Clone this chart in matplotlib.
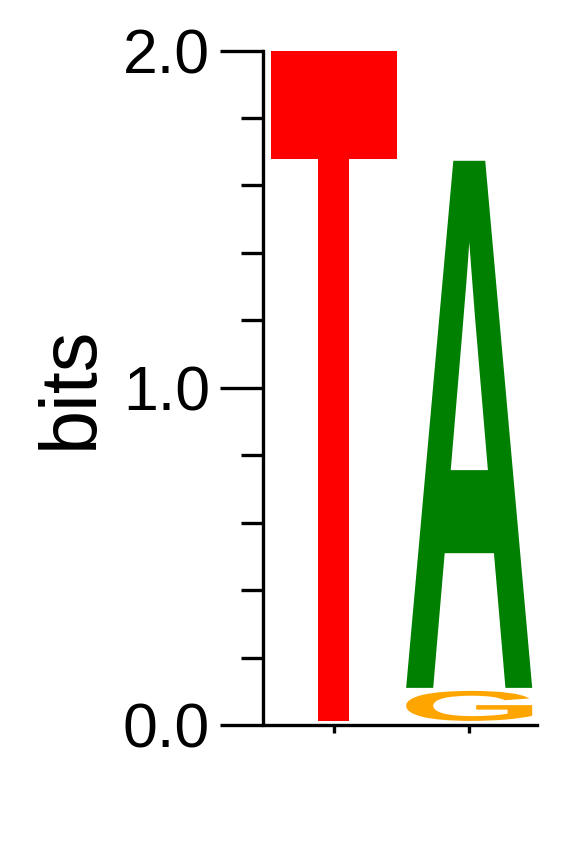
import matplotlib
matplotlib.use("Agg")
import matplotlib.pyplot as plt
from matplotlib.textpath import TextPath
from matplotlib.patches import PathPatch
from matplotlib.font_manager import FontProperties
from matplotlib.transforms import Affine2D

# logo data: bits per letter at each position (stacked bottom to top)
positions = [1, 2]
letters = ['G', 'A', 'T']
heights = {
    'G': [0.0, 0.089],
    'A': [0.0, 1.563],
    'T': [1.987, 0.0],
}
colors = {'T': '#ff0000', 'A': '#008000', 'G': '#ffa500'}
baseline = 0.012
gap = 0.009
letter_width = 0.93

plt.rcParams['font.family'] = ['Liberation Sans', 'DejaVu Sans']

fig = plt.figure(figsize=(5.83, 8.42), dpi=100)
ax = fig.add_axes([0.456, 0.139, 0.465, 0.801])

glyph_font = FontProperties(family='Liberation Sans', weight='bold')

def draw_letter(ax, ch, x, y0, h):
    tp = TextPath((0, 0), ch, size=100, prop=glyph_font)
    ext = tp.get_extents()
    tr = (Affine2D()
          .translate(-ext.x0, -ext.y0)
          .scale(letter_width / ext.width, h / ext.height)
          .translate(x - letter_width / 2, y0))
    path = tr.transform_path(tp)
    ax.add_patch(PathPatch(path, facecolor=colors[ch], edgecolor='none', lw=0))

for i, pos in enumerate(positions):
    y = baseline
    for ch in letters:
        h = heights[ch][i]
        if h <= 0:
            continue
        draw_letter(ax, ch, pos, y, h)
        y += h + gap

ax.set_xlim(0.5, 2.5)
ax.set_ylim(0, 2.0)

for s in ['top', 'right']:
    ax.spines[s].set_visible(False)
ax.spines['left'].set_position(('outward', 2.2))
for s in ['left', 'bottom']:
    ax.spines[s].set_linewidth(2.4)

ax.set_xticks(positions)
ax.set_xticklabels([])
ax.tick_params(axis='x', length=6, width=2.4, direction='out')

ax.set_yticks([0, 1, 2])
ax.set_yticklabels(['0.0', '1.0', '2.0'])
ax.set_yticks([0.2, 0.4, 0.6, 0.8, 1.2, 1.4, 1.6, 1.8], minor=True)
ax.tick_params(axis='y', which='major', length=31, width=2.4, labelsize=45, pad=7)
ax.tick_params(axis='y', which='minor', length=16, width=2.4)

ax.set_ylabel('bits', fontsize=57, labelpad=10)

fig.savefig('out.png', dpi=100)
